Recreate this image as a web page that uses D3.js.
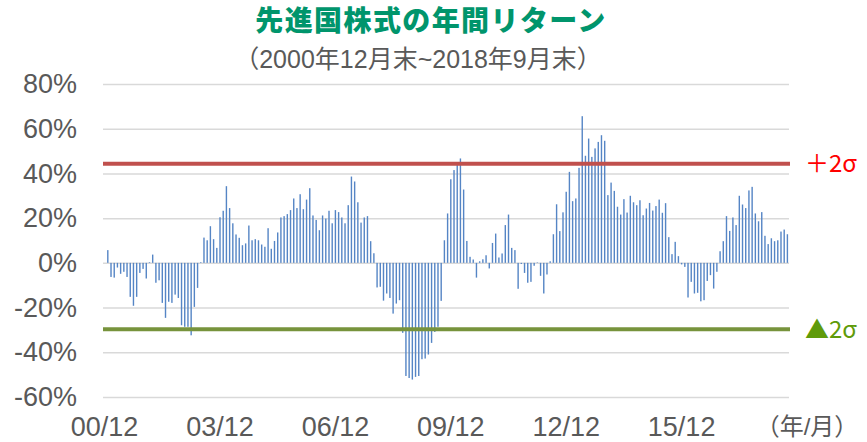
<!DOCTYPE html>
<html>
<head>
<meta charset="utf-8">
<script src="https://cdn.jsdelivr.net/npm/d3@7"></script>
<style>
  body { margin: 0; background: #fff; }
  svg { display: block; font-family: "Liberation Sans", Arial, "Noto Sans CJK JP", sans-serif; }
</style>
</head>
<body>
<div id="chart"></div>
<script>
/*
#################################################
SECTION 1: DATA
#################################################
*/
//Annual return (%) each month end, 2000/12 .. 2018/9 (first month has no value)
var returns = [null,
	5.7, -6.3, -6.6, -2.1, -4.9, -4.0, -6.3, -15.2, -19.2, -15.2, -4.5, -2.7,
	-7.0, 0.3, 3.7, -8.9, -7.8, -17.9, -24.6, -17.4, -17.9, -14.2, -15.7, -27.9,
	-28.6, -28.6, -32.4, -19.7, -11.2, 0.3, 11.3, 10.1, 16.4, 10.6, 6.7, 20.4,
	23.3, 34.3, 24.5, 17.7, 12.7, 11.2, 7.9, 8.7, 16.7, 10.1, 10.6, 10.1,
	8.2, 7.2, 15.5, 6.3, 9.8, 13.6, 20.3, 20.9, 21.8, 23.6, 28.8, 24.5,
	30.7, 24.0, 28.3, 33.4, 21.2, 19.2, 14.6, 21.2, 19.8, 23.3, 17.7, 23.6,
	22.7, 20.3, 17.7, 25.8, 38.6, 36.4, 27.1, 18.0, 20.3, 20.9, 9.7, 4.3,
	-11.0, -10.7, -16.9, -13.7, -15.7, -22.7, -18.2, -16.7, -31.3, -50.6, -51.5, -52.2,
	-51.0, -50.6, -43.1, -42.8, -41.0, -35.8, -30.9, -28.6, -17.0, 10.1, 22.1, 37.4,
	41.5, 44.1, 46.7, 32.8, 9.8, 2.7, 1.5, -6.6, 0.7, 1.6, 3.4, -2.5,
	8.9, 13.1, 2.4, 4.2, 16.9, 21.6, 6.7, 5.7, -11.6, -0.5, -4.5, -8.9,
	-8.5, -1.3, 0.2, -5.8, -13.7, -5.2, 0.7, 12.8, 26.2, 14.2, 22.6, 31.8,
	40.7, 27.6, 28.8, 42.5, 65.6, 47.9, 55.6, 47.4, 51.2, 54.1, 57.1, 54.6,
	30.3, 35.9, 32.2, 25.1, 21.6, 28.5, 22.5, 30.0, 27.1, 25.8, 28.0, 21.3,
	24.3, 26.8, 23.4, 25.4, 28.3, 22.4, 26.7, 11.5, 3.9, 9.4, 3.0, -0.7,
	-1.8, -15.5, -8.5, -13.7, -13.4, -17.2, -16.7, -8.1, -5.5, -11.5, -4.0, 5.2,
	9.7, 20.9, 14.3, 20.3, 16.9, 30.0, 26.1, 24.5, 32.4, 34.0, 22.1, 18.6,
	22.7, 12.1, 8.4, 11.0, 9.7, 10.1, 14.0, 14.9, 12.8
];

//Category keys yy/mm for each month
var months = returns.map(function(d, i) {
	var m = (11 + i) % 12 + 1, y = (2000 + Math.floor((11 + i) / 12)) % 100;
	return d3.format("02")(y) + "/" + d3.format("02")(m);
});

var xTickLabels = ["00/12", "03/12", "06/12", "09/12", "12/12", "15/12"];
var yTicks = [80, 60, 40, 20, 0, -20, -40, -60];

//+2 sigma and -2 sigma levels (%)
var sigmaValues = [44.3, -29.7];
var sigmaLabels = ["＋2σ", "▲2σ"];
var sigmaLineColors = ["#c0504d", "#77933c"];
var sigmaTextColors = ["#ff0000", "#5f9b0a"];

var title = "先進国株式の年間リターン";
var subtitle = "（2000年12月末~2018年9月末）";

/*
#################################################
SECTION 2: DRAWING AREA AND SCALES
#################################################
*/
var width = 867, height = 442,
		margin = {top: 84, right: 78, bottom: 45, left: 103},
		plotWidth = width - margin.left - margin.right,
		plotHeight = height - margin.top - margin.bottom;

var svg = d3.select('#chart').append('svg')
		.attr('width', width)
		.attr('height', height);

var plot = svg.append('g')
		.attr('transform', 'translate(' + margin.left + ',' + margin.top + ')');

var xScale = d3.scaleBand()
		.domain(months)
		.range([0, 686])
		.padding(0);

var yScale = d3.scaleLinear()
		.domain([-60, 80])
		.range([313, 0]);

/*
#################################################
SECTION 3: AXES, GRID, BARS
#################################################
*/
var yAxis = d3.axisLeft(yScale)
		.tickValues(yTicks)
		.tickSize(-686)
		.tickPadding(26)
		.tickFormat(function(d) {return d + "%";});

var yAxisG = plot.append('g').call(yAxis);
yAxisG.select('.domain').remove();
yAxisG.selectAll('line')
		.attr('stroke', '#d9d9d9')
		.attr('stroke-width', 1.5);
yAxisG.selectAll('text')
		.attr('fill', '#595959')
		.style('font-size', '27px');

//bars
plot.selectAll('.bar').data(returns.map(function(d, i) {return {month: months[i], value: d};})
		.filter(function(d) {return d.value !== null;}))
	.enter().append('rect')
		.attr('class', 'bar')
		.attr('x', function(d) {return xScale(d.month) + xScale.bandwidth() / 2 - 0.7;})
		.attr('width', 1.4)
		.attr('y', function(d) {return yScale(Math.max(0, d.value));})
		.attr('height', function(d) {return Math.abs(yScale(d.value) - yScale(0));})
		.attr('fill', '#5585c5');

//x axis labels
var xAxis = d3.axisBottom(xScale)
		.tickValues(xTickLabels)
		.tickSize(0)
		.tickPadding(0);

var xAxisG = plot.append('g')
		.attr('transform', 'translate(0,' + (height - margin.top) + ')')
		.call(xAxis);
xAxisG.select('.domain').remove();
xAxisG.selectAll('text')
		.attr('y', -6)
		.attr('dy', 0)
		.attr('fill', '#595959')
		.style('font-size', '27px');

svg.append('text')
		.attr('x', 807)
		.attr('y', 435)
		.attr('text-anchor', 'middle')
		.attr('fill', '#595959')
		.style('font-size', '24px')
		.text("（年/月）");

//sigma lines and labels
plot.selectAll('.sigma').data(sigmaValues)
	.enter().append('line')
		.attr('class', 'sigma')
		.attr('x1', 0)
		.attr('x2', 687)
		.attr('y1', function(d) {return yScale(d);})
		.attr('y2', function(d) {return yScale(d);})
		.attr('stroke', function(d, i) {return sigmaLineColors[i];})
		.attr('stroke-width', 4);

plot.selectAll('.sigmaLabel').data(sigmaValues)
	.enter().append('text')
		.attr('class', 'sigmaLabel')
		.attr('x', 702)
		.attr('y', function(d) {return yScale(d);})
		.attr('dy', '0.36em')
		.attr('fill', function(d, i) {return sigmaTextColors[i];})
		.style('font-family', '"Noto Sans CJK JP", sans-serif')
		.style('font-size', '24px')
		.text(function(d, i) {return sigmaLabels[i];});

/*
#################################################
SECTION 4: TITLES
#################################################
*/
svg.append('text')
		.attr('x', 431)
		.attr('y', 31)
		.attr('text-anchor', 'middle')
		.attr('fill', '#00956c')
		.style('font-family', '"Noto Sans CJK JP", sans-serif')
		.style('font-weight', 900)
		.style('font-size', '28px')
		.style('letter-spacing', '1.4px')
		.text(title);

svg.append('text')
		.attr('x', 418)
		.attr('y', 68)
		.attr('text-anchor', 'middle')
		.attr('fill', '#595959')
		.style('font-size', '25px')
		.text(subtitle);
</script>
</body>
</html>
